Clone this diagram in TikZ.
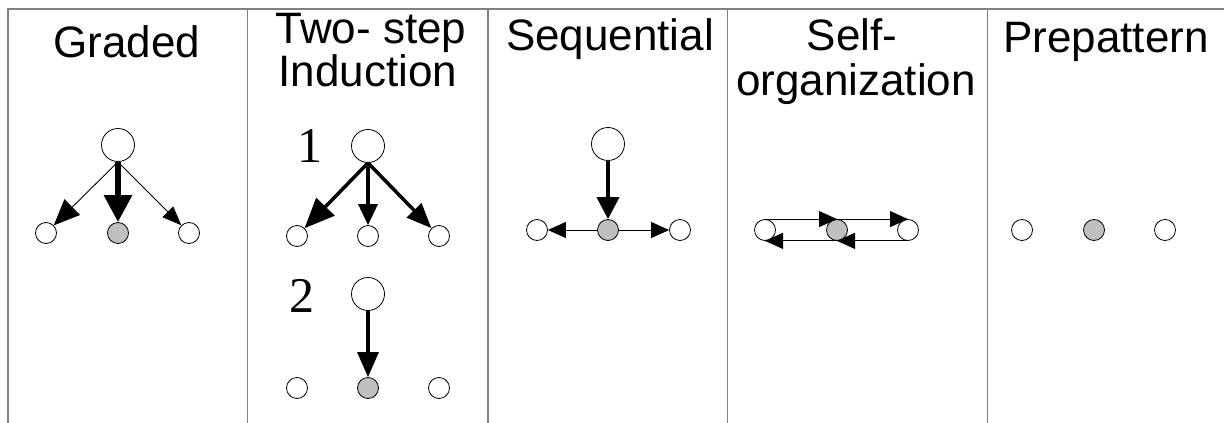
\documentclass[tikz,border=0pt]{standalone}
\usepackage{fontspec}
\setmainfont{Liberation Sans}
\newfontfamily\digitfont{Liberation Serif}
\usetikzlibrary{arrows.meta}
\tikzset{
  frameline/.style={draw=black!50, line width=1.5pt},
  title/.style={anchor=base, inner sep=0pt, font=\fontsize{44}{44}\selectfont},
  numlabel/.style={anchor=base, inner sep=0pt, font=\digitfont\fontsize{50}{50}\selectfont},
  bigc/.style={circle, draw=black, line width=0.8pt, fill=white, minimum size=33pt, inner sep=0pt},
  smallc/.style={circle, draw=black, line width=0.8pt, fill=white, minimum size=21pt, inner sep=0pt},
  grayc/.style={smallc, fill=black!25},
  thinarr/.style={line width=0.9pt},
  thickarr/.style={line width=4pt},
}
\begin{document}
\begin{tikzpicture}[x=1pt,y=-1pt]
\useasboundingbox (0,0) rectangle (1224,423);
% frame
\draw[frameline] (8,423) coordinate (fbl) -- (8,9) coordinate (ftl) -- (1224,9) coordinate (ftr);
\draw[frameline] (247.5,9) coordinate (d1t) -- (247.5,423) coordinate (d1b);
\draw[frameline] (488,9) coordinate (d2t) -- (488,423) coordinate (d2b);
\draw[frameline] (727.5,9) coordinate (d3t) -- (727.5,423) coordinate (d3b);
\draw[frameline] (987.5,9) coordinate (d4t) -- (987.5,423) coordinate (d4b);

% titles
\node[title] (t1) at (127,57) {Graded};
\node[title] (t2a) at (371,43) {Two- step};
\node[title] (t2b) at (368,86) {Induction};
\node[title] (t3) at (610,50) {Sequential};
\node[title] (t4a) at (852,50) {Self-};
\node[title] (t4b) at (856,95) {organization};
\node[title] (t5) at (1106,52) {Prepattern};

% Graded
\node[bigc] (gt) at (118,145) {};
\node[smallc] (gl) at (46,233) {};
\node[grayc] (gm) at (118,233) {};
\node[smallc] (gr) at (189,233) {};
\draw[thinarr, -{Triangle[length=26pt,width=22pt]}] (gt.south) -- (gl);
\draw[line width=6pt, -{Triangle[length=27pt,width=27pt]}] (gt.south) -- (gm.north);
\draw[thinarr, -{Triangle[length=19pt,width=15pt]}] (gt.south) -- (gr);

% Two-step induction, step 1
\node[numlabel] (n1) at (310,162) {1};
\node[bigc] (at) at (368,146) {};
\node[smallc] (al) at (297,236) {};
\node[smallc] (am) at (368,236) {};
\node[smallc] (ar) at (439,236) {};
\draw[line width=3.5pt, -{Triangle[length=30pt,width=25pt]}] (at.south) -- (al);
\draw[line width=3.5pt, -{Triangle[length=21pt,width=19pt]}] (at.south) -- (am.north);
\draw[line width=3.5pt, -{Triangle[length=25pt,width=20pt]}] (at.south) -- (ar);

% step 2
\node[numlabel] (n2) at (302,312) {2};
\node[bigc] (bt) at (368,294) {};
\node[smallc] (bl) at (297,388) {};
\node[grayc] (bm) at (368,388) {};
\node[smallc] (br) at (439,388) {};
\draw[line width=3.5pt, -{Triangle[length=25pt,width=21pt]}] (bt.south) -- (bm.north);

% Sequential
\node[bigc] (st) at (608,144) {};
\node[smallc] (sl) at (537,230) {};
\node[grayc] (sm) at (608,230) {};
\node[smallc] (sr) at (680,230) {};
\draw[thickarr, -{Triangle[length=22pt,width=22pt]}] (st.south) -- (sm.north);
\draw[thinarr, -{Triangle[length=18pt,width=16pt]}] (sm.west) -- (sl.east);
\draw[thinarr, -{Triangle[length=18pt,width=16pt]}] (sm.east) -- (sr.west);

% Self-organization
\node[smallc] (ol) at (765,230) {};
\node[grayc] (om) at (837,230) {};
\node[smallc] (or) at (908,230) {};
\draw[thinarr, -{Triangle[length=18pt,width=16pt]}] (ol.north) -- (om.north);
\draw[thinarr, -{Triangle[length=18pt,width=16pt]}] (om.north) -- (or.north);
\draw[thinarr, -{Triangle[length=18pt,width=16pt]}] (or.south) -- (om.south);
\draw[thinarr, -{Triangle[length=18pt,width=16pt]}] (om.south) -- (ol.south);

% Prepattern
\node[smallc] (pl) at (1022,230) {};
\node[grayc] (pm) at (1094,230) {};
\node[smallc] (pr) at (1165,230) {};
\end{tikzpicture}
\end{document}
